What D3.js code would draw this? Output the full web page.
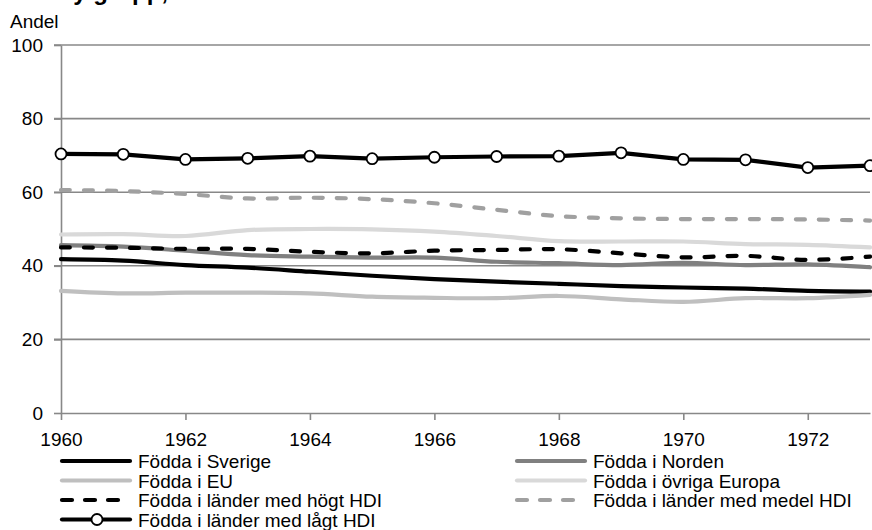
<!DOCTYPE html>
<html>
<head>
<meta charset="utf-8">
<script src="https://cdn.jsdelivr.net/npm/d3@7"></script>
<style>
  body { margin: 0; background: #fff; }
  text { font-family: "Liberation Sans", Arial, sans-serif; }
</style>
</head>
<body>
<script>
// data
const years = [1960, 1961, 1962, 1963, 1964, 1965, 1966, 1967, 1968, 1969, 1970, 1971, 1972, 1973];
const sverige = [41.8, 41.4, 40.2, 39.5, 38.4, 37.3, 36.4, 35.7, 35.1, 34.5, 34.1, 33.8, 33.2, 33.0];
const norden  = [45.6, 45.2, 44.1, 42.9, 42.5, 42.2, 42.2, 41.1, 40.7, 40.2, 40.8, 40.2, 40.4, 39.6];
const eu      = [33.2, 32.5, 32.7, 32.7, 32.5, 31.6, 31.3, 31.2, 31.8, 30.9, 30.2, 31.2, 31.2, 32.1];
const ovrigaEuropa = [48.5, 48.6, 48.1, 49.7, 50.0, 49.9, 49.3, 48.1, 46.7, 46.6, 46.6, 45.9, 45.7, 45.0];
const hogtHDI  = [45.0, 44.9, 44.6, 44.6, 43.8, 43.4, 44.1, 44.3, 44.5, 43.4, 42.3, 42.7, 41.6, 42.5];
const medelHDI = [60.6, 60.3, 59.5, 58.3, 58.5, 58.1, 57.0, 55.2, 53.5, 52.9, 52.7, 52.7, 52.6, 52.3];
const lagtHDI  = [70.4, 70.3, 68.9, 69.2, 69.8, 69.1, 69.5, 69.7, 69.8, 70.7, 68.9, 68.8, 66.7, 67.2];
const yTicks = [0, 20, 40, 60, 80, 100];
const xTicks = [1960, 1962, 1964, 1966, 1968, 1970, 1972];

// series styles, in drawing order
const series = [
  { name: "Födda i Sverige", values: sverige, color: "#000", dash: null, marker: false, col: 0, row: 0 },
  { name: "Födda i Norden", values: norden, color: "#808080", dash: null, marker: false, col: 1, row: 0 },
  { name: "Födda i EU", values: eu, color: "#bfbfbf", dash: null, marker: false, col: 0, row: 1 },
  { name: "Födda i övriga Europa", values: ovrigaEuropa, color: "#d9d9d9", dash: null, marker: false, col: 1, row: 1 },
  { name: "Födda i länder med högt HDI", values: hogtHDI, color: "#000", dash: "9,14", marker: false, col: 0, row: 2 },
  { name: "Födda i länder med medel HDI", values: medelHDI, color: "#a0a0a0", dash: "9,14", marker: false, col: 1, row: 2 },
  { name: "Födda i länder med lågt HDI", values: lagtHDI, color: "#000", dash: null, marker: true, col: 0, row: 3 }
];

const width = 872, height = 530;
const fontSize = 19;
const svg = d3.select("body").append("svg")
  .attr("width", width)
  .attr("height", height);

const x = d3.scaleLinear().domain([1960, 1973]).range([61, 870]);
const y = d3.scaleLinear().domain([0, 100]).range([413, 45]);

// title, cut off by the top edge as in the source
svg.append("text")
  .attr("x", 0)
  .attr("y", 0)
  .attr("font-size", 24)
  .attr("font-weight", "bold")
  .text("Andel y grupp, efter år");

svg.append("text")
  .attr("x", 10)
  .attr("y", 28)
  .attr("font-size", fontSize)
  .text("Andel");

// gridlines
svg.append("g")
  .selectAll("line")
  .data(yTicks.filter(d => d > 0))
  .join("line")
  .attr("x1", 54)
  .attr("x2", 870)
  .attr("y1", d => y(d))
  .attr("y2", d => y(d))
  .attr("stroke", "#888")
  .attr("stroke-width", 1.6);

// y axis
const yAxis = svg.append("g")
  .attr("transform", `translate(${x(1960)},0)`)
  .call(d3.axisLeft(y).tickValues(yTicks).tickSize(7).tickPadding(11).tickSizeOuter(0));
yAxis.select(".domain").attr("stroke", "#888").attr("stroke-width", 1.6);
yAxis.selectAll(".tick line").attr("stroke", "#888").attr("stroke-width", 1.6);
yAxis.selectAll(".tick text")
  .attr("font-size", fontSize)
  .attr("font-family", "Liberation Sans, Arial, sans-serif")
  .attr("fill", "#000");

// x axis
const xAxis = svg.append("g")
  .attr("transform", `translate(0,${y(0)})`)
  .call(d3.axisBottom(x).tickValues(xTicks).tickFormat(d3.format("d")).tickSize(7).tickPadding(13).tickSizeOuter(0));
xAxis.select(".domain").attr("stroke", "#888").attr("stroke-width", 1.6);
xAxis.selectAll(".tick line").attr("stroke", "#888").attr("stroke-width", 1.6);
xAxis.selectAll(".tick text")
  .attr("font-size", fontSize)
  .attr("font-family", "Liberation Sans, Arial, sans-serif")
  .attr("fill", "#000");

// lines
const smooth = d3.line()
  .x((d, i) => x(years[i]))
  .y(d => y(d))
  .curve(d3.curveCatmullRom.alpha(0.5));
const straight = d3.line()
  .x((d, i) => x(years[i]))
  .y(d => y(d));

const plot = svg.append("g");
series.forEach(s => {
  plot.append("path")
    .attr("d", s.marker ? straight(s.values) : smooth(s.values))
    .attr("fill", "none")
    .attr("stroke", s.color)
    .attr("stroke-width", 4.2)
    .attr("stroke-linecap", "round")
    .attr("stroke-linejoin", "round")
    .attr("stroke-dasharray", s.dash);
  if (s.marker) {
    plot.append("g")
      .selectAll("circle")
      .data(s.values)
      .join("circle")
      .attr("cx", (d, i) => x(years[i]))
      .attr("cy", d => y(d))
      .attr("r", 5.5)
      .attr("fill", "#fff")
      .attr("stroke", "#000")
      .attr("stroke-width", 1.8);
  }
});

// legend
const colX = [60, 515];
const rowY = [468, 487.5, 507, 526.5];
const legend = svg.append("g");
series.forEach(s => {
  const lx = colX[s.col], ly = rowY[s.row];
  const g = legend.append("g").attr("transform", `translate(${lx},${ly})`);
  g.append("line")
    .attr("x1", 2).attr("x2", 70)
    .attr("y1", -7).attr("y2", -7)
    .attr("stroke", s.color)
    .attr("stroke-width", 4.2)
    .attr("stroke-linecap", "round")
    .attr("stroke-dasharray", s.dash ? "10,13" : null);
  if (s.marker) {
    g.append("circle")
      .attr("cx", 37).attr("cy", -7).attr("r", 5.5)
      .attr("fill", "#fff").attr("stroke", "#000").attr("stroke-width", 1.8);
  }
  g.append("text")
    .attr("x", 78)
    .attr("y", 0)
    .attr("font-size", fontSize)
    .text(s.name);
});
</script>
</body>
</html>
